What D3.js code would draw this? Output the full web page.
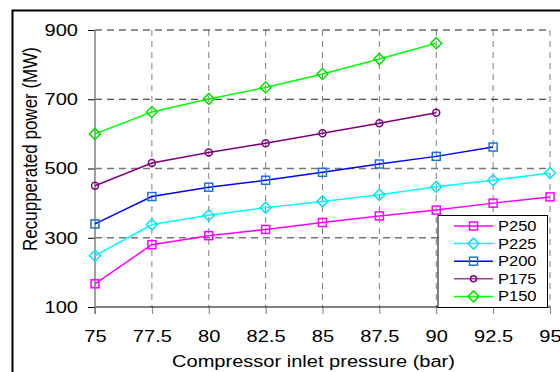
<!DOCTYPE html>
<html><head><meta charset="utf-8">
<script src="https://cdn.jsdelivr.net/npm/d3@7"></script>
<style>body{margin:0;background:#fff}svg{display:block;font-family:"Liberation Sans",Arial,sans-serif}</style>
</head><body><svg id="c" width="560" height="372"></svg>
<script>
const xCategories = [75, 77.5, 80, 82.5, 85, 87.5, 90, 92.5, 95];
const xTickLabels = ["75","77.5","80","82.5","85","87.5","90","92.5","95"];
const yTicks = [100, 300, 500, 700, 900];
const seriesNames = ["P250","P225","P200","P175","P150"];
const P250 = [167, 280, 306, 324, 344, 363, 380, 400, 418];
const P225 = [248, 338, 365, 387, 405, 424, 447, 466, 487];
const P200 = [340, 419, 446, 466, 489, 513, 535, 562];
const P175 = [450, 516, 546, 573, 602, 631, 661];
const P150 = [600, 663, 701, 734, 773, 816, 862];

const SX = 1.18; // horizontal stretch of the reference typography
const styles = {
  P250:{line:"#ff00ff", mark:"#ff00ff", shape:"square", size:8},
  P225:{line:"#00ffff", mark:"#00e5ff", shape:"diamond", size:11},
  P200:{line:"#0000ff", mark:"#1a75d9", shape:"square", size:8},
  P175:{line:"#800080", mark:"#800080", shape:"circle", size:7},
  P150:{line:"#00ff00", mark:"#00e000", shape:"diamond", size:11}
};
const data = {P250, P225, P200, P175, P150};

const svg = d3.select("#c");
const x = d3.scaleLinear().domain([75,95]).range([95,550]);
const y = d3.scaleLinear().domain([100,900]).range([307,30]);

// outer frame
svg.append("rect").attr("x",12.5).attr("y",10.5).attr("width",600).attr("height",400)
  .attr("fill","none").attr("stroke","#000").attr("stroke-width",2);

// vertical grid
svg.append("g").selectAll("line").data(xCategories.slice(1)).join("line")
  .attr("x1",d=>x(d)).attr("x2",d=>x(d)).attr("y1",y(900)).attr("y2",y(100))
  .attr("stroke","#808080").attr("stroke-width",1).attr("stroke-dasharray","6,5");
// horizontal grid
svg.append("g").selectAll("line").data(yTicks.slice(1)).join("line")
  .attr("x1",x(75)).attr("x2",x(95)).attr("y1",d=>y(d)).attr("y2",d=>y(d))
  .attr("stroke",d=>d>=700?"#222":"#777").attr("stroke-width",d=>d>=700?1:1.5)
  .attr("stroke-dasharray","7,5");

// axes
const yAxis = d3.axisLeft(y).tickValues(yTicks).tickSize(7).tickPadding(2);
const gy = svg.append("g").attr("transform",`translate(${x(75)},0)`).call(yAxis);
gy.select(".domain").remove();
gy.selectAll("line").attr("stroke","#000");
gy.selectAll("text").attr("font-size",17).attr("fill","#000").attr("font-family","Liberation Sans, Arial, sans-serif")
  .attr("x",-(17)/SX).attr("transform",`scale(${SX},1)`);

const xAxis = d3.axisBottom(x).tickValues(xCategories).tickFormat((d,i)=>xTickLabels[i]).tickSize(7).tickPadding(16);
const gx = svg.append("g").attr("transform",`translate(0,${y(100)})`).call(xAxis);
gx.select(".domain").remove();
gx.selectAll("line").attr("stroke","#808080");
gx.selectAll("text").attr("font-size",17).attr("fill","#000").attr("font-family","Liberation Sans, Arial, sans-serif")
  .attr("transform",`scale(${SX},1)`);
svg.append("line").attr("x1",x(75)).attr("x2",x(95)).attr("y1",y(100)).attr("y2",y(100)).attr("stroke","#000");
svg.append("line").attr("x1",x(75)).attr("x2",x(75)).attr("y1",y(900)).attr("y2",y(100)+7).attr("stroke","#808080").attr("stroke-width",1.5);

// titles
svg.append("text").attr("transform",`translate(313.5,367) scale(${SX},1)`).attr("text-anchor","middle")
  .attr("font-size",17).text("Compressor inlet pressure (bar)");
svg.append("text").attr("transform",`translate(37,149) scale(${SX},1) rotate(-90)`).attr("text-anchor","middle")
  .attr("font-size",17).text("Recupperated power (MW)");

function marker(g, shape, cx, cy, size, color){
  if(shape==="square"){
    g.append("rect").attr("x",cx-size/2).attr("y",cy-size/2).attr("width",size).attr("height",size)
      .attr("fill","none").attr("stroke",color).attr("stroke-width",1.5);
  } else if(shape==="diamond"){
    const h=size/2;
    g.append("path").attr("d",`M${cx},${cy-h}L${cx+h},${cy}L${cx},${cy+h}L${cx-h},${cy}Z`)
      .attr("fill","none").attr("stroke",color).attr("stroke-width",1.5);
  } else {
    g.append("circle").attr("cx",cx).attr("cy",cy).attr("r",size/2)
      .attr("fill","none").attr("stroke",color).attr("stroke-width",1.5);
  }
}

const line = d3.line().x(d=>x(d[0])).y(d=>y(d[1]));
seriesNames.forEach(name=>{
  const st = styles[name];
  const pts = data[name].map((v,i)=>[xCategories[i],v]);
  const g = svg.append("g");
  g.append("path").attr("d",line(pts)).attr("fill","none").attr("stroke",st.line).attr("stroke-width",1.5);
  pts.forEach(p=>marker(g, st.shape, x(p[0]), y(p[1]), st.size, st.mark));
});

// legend
const lg = svg.append("g");
lg.append("rect").attr("x",438).attr("y",215.5).attr("width",109.5).attr("height",92)
  .attr("fill","#fff").attr("stroke","#000").attr("stroke-width",1);
seriesNames.forEach((name,i)=>{
  const st = styles[name];
  const cy = 226 + i*17.6;
  lg.append("line").attr("x1",454).attr("x2",493).attr("y1",cy).attr("y2",cy)
    .attr("stroke",st.line).attr("stroke-width",1.5).attr("opacity",name==="P175"?0.75:1);
  marker(lg, st.shape, 473.5, cy, name==="P175"?6:(st.shape==="diamond"?11:8), st.mark);
  lg.append("text").attr("transform",`translate(498,${cy+5}) scale(${SX},1)`).attr("font-size",14).text(name);
});
</script></body></html>
